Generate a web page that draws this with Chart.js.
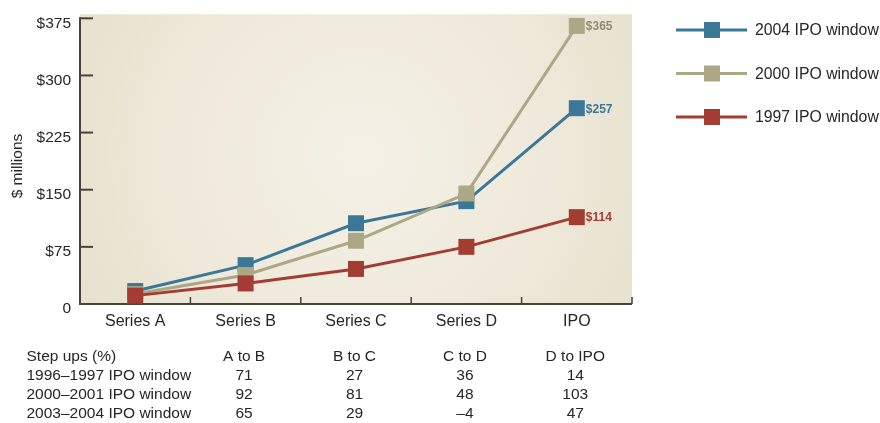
<!DOCTYPE html>
<html>
<head>
<meta charset="utf-8">
<script src="https://cdn.jsdelivr.net/npm/chart.js@4/dist/chart.umd.min.js"></script>
<style>
  html, body { margin: 0; padding: 0; background: #ffffff; }
  #wrap { width: 880px; height: 423px; }
</style>
</head>
<body>
<div id="wrap"><canvas id="c" width="880" height="423"></canvas></div>
<script>
// Funding round medians, $ millions
const categories = ['Series A', 'Series B', 'Series C', 'Series D', 'IPO'];
const seriesNames = ['2004 IPO window', '2000 IPO window', '1997 IPO window'];
const values2004 = [17, 51, 106, 135, 257];
const values2000 = [13, 38, 83, 145, 365];
const values1997 = [11, 27, 46, 75, 114];
const seriesColors = ['#3b7797', '#aca886', '#a33d33'];
const labelColors = ['#3b7797', '#8f8b70', '#a33d33'];

// Value axis
const yMax = 375;
const yStep = 75;

// Step-up table under the chart
const stepTitle = 'Step ups (%)';
const stepHeaders = ['A to B', 'B to C', 'C to D', 'D to IPO'];
const stepRowLabels = ['1996–1997 IPO window', '2000–2001 IPO window', '2003–2004 IPO window'];
const stepUps1997 = [71, 27, 36, 14];
const stepUps2001 = [92, 81, 48, 103];
const stepUps2004 = [65, 29, -4, 47];

const FONT = "'Liberation Sans', Arial, Helvetica, sans-serif";
const TEXT = '#262626';
const AXIS = '#48423c';

function fmtStep(v) { return v < 0 ? '–' + Math.abs(v) : String(v); }

const decor = {
  id: 'decor',
  beforeDraw(chart) {
    const { ctx, chartArea: a } = chart;
    const cx = a.left + (a.right - a.left) * 0.51;
    const cy = a.top + (a.bottom - a.top) * 0.48;
    const g = ctx.createRadialGradient(cx, cy, 0, cx, cy, 330);
    g.addColorStop(0, '#f4f1e7');
    g.addColorStop(0.55, '#eee9da');
    g.addColorStop(1, '#e6e0cc');
    ctx.save();
    ctx.fillStyle = g;
    ctx.fillRect(a.left, a.top - 4, a.right - a.left, a.bottom - a.top + 4);
    ctx.restore();
  },
  beforeDatasetsDraw(chart) {
    const { ctx, chartArea: a, scales } = chart;
    const x = scales.x, y = scales.y;
    ctx.save();
    ctx.strokeStyle = AXIS;
    ctx.lineWidth = 2;
    // axis lines
    ctx.beginPath();
    ctx.moveTo(a.left, a.top - 1);
    ctx.lineTo(a.left, a.bottom);
    ctx.lineTo(a.right, a.bottom);
    ctx.stroke();
    // inward ticks on value axis
    y.ticks.forEach(t => {
      const py = y.getPixelForValue(t.value);
      ctx.beginPath();
      ctx.moveTo(a.left, py);
      ctx.lineTo(a.left + 13, py);
      ctx.stroke();
    });
    // inward ticks between categories
    ctx.lineWidth = 1.5;
    for (let i = 1; i <= categories.length; i++) {
      const px = x.getPixelForValue(i - 0.5);
      ctx.beginPath();
      ctx.moveTo(px, a.bottom);
      ctx.lineTo(px, a.bottom - 7);
      ctx.stroke();
    }
    ctx.restore();
  },
  afterDatasetsDraw(chart) {
    const { ctx, chartArea: a, scales } = chart;
    const x = scales.x;
    ctx.save();

    // end-value labels
    ctx.font = 'bold 12px ' + FONT;
    ctx.textAlign = 'left';
    ctx.textBaseline = 'middle';
    chart.data.datasets.forEach((ds, i) => {
      const meta = chart.getDatasetMeta(i);
      const last = ds.data.length - 1;
      const pt = meta.data[last];
      ctx.fillStyle = labelColors[i];
      ctx.fillText('$' + ds.data[last], pt.x + 9, pt.y + 1);
    });

    // axis title
    ctx.save();
    ctx.translate(18, 166);
    ctx.rotate(-Math.PI / 2);
    ctx.font = '15.5px ' + FONT;
    ctx.fillStyle = TEXT;
    ctx.textAlign = 'center';
    ctx.textBaseline = 'middle';
    ctx.fillText('$ millions', 0, 0);
    ctx.restore();

    // legend
    const legRows = [30, 73.5, 117];
    chart.data.datasets.forEach((ds, i) => {
      const ly = legRows[i];
      ctx.strokeStyle = seriesColors[i];
      ctx.lineWidth = 3;
      ctx.beginPath();
      ctx.moveTo(676, ly);
      ctx.lineTo(747, ly);
      ctx.stroke();
      ctx.fillStyle = seriesColors[i];
      ctx.fillRect(704, ly - 8, 16, 16);
      ctx.fillStyle = TEXT;
      ctx.font = '15.8px ' + FONT;
      ctx.textAlign = 'left';
      ctx.textBaseline = 'middle';
      ctx.fillText(ds.label, 755, ly + 1);
    });

    // step-up table
    ctx.font = '15.5px ' + FONT;
    ctx.fillStyle = TEXT;
    ctx.textBaseline = 'middle';
    const rows = [356.5, 375.5, 394.5, 413.5];
    ctx.textAlign = 'left';
    ctx.fillText(stepTitle, 26.5, rows[0]);
    stepRowLabels.forEach((s, r) => ctx.fillText(s, 26.5, rows[r + 1]));
    const tableVals = [stepUps1997, stepUps2001, stepUps2004];
    ctx.textAlign = 'center';
    stepHeaders.forEach((h, c) => {
      const px = x.getPixelForValue(c + 1) - 1.5;
      ctx.fillText(h, px, rows[0]);
      tableVals.forEach((arr, r) => ctx.fillText(fmtStep(arr[c]), px, rows[r + 1]));
    });
    ctx.restore();
  }
};

function seriesDataset(label, data, idx, order) {
  return {
    label,
    data,
    order,
    borderColor: seriesColors[idx],
    backgroundColor: seriesColors[idx],
    borderWidth: 3,
    pointStyle: 'rect',
    pointRadius: 11.3,
    pointHoverRadius: 11.3,
    pointBorderWidth: 0,
    pointBackgroundColor: seriesColors[idx],
    tension: 0,
    clip: false
  };
}

new Chart(document.getElementById('c'), {
  type: 'line',
  data: {
    labels: categories,
    datasets: [
      seriesDataset(seriesNames[0], values2004, 0, 2),
      seriesDataset(seriesNames[1], values2000, 1, 1),
      seriesDataset(seriesNames[2], values1997, 2, 0)
    ]
  },
  options: {
    responsive: false,
    devicePixelRatio: 1,
    animation: false,
    events: [],
    layout: { padding: { top: 16, right: 248, bottom: 89, left: 0 } },
    plugins: { legend: { display: false }, tooltip: { enabled: false } },
    scales: {
      x: {
        offset: true,
        grid: { display: false, drawTicks: false },
        border: { display: false },
        ticks: { color: TEXT, font: { family: FONT, size: 16 }, padding: 8, maxRotation: 0 },
        afterFit(s) { s.height = 30; }
      },
      y: {
        min: 0,
        max: yMax,
        grid: { display: false, drawTicks: false },
        border: { display: false },
        ticks: {
          stepSize: yStep,
          color: TEXT,
          font: { family: FONT, size: 15.5 },
          padding: 9,
          labelOffset: 5,
          callback: v => (v === 0 ? '0' : '$' + v)
        },
        afterFit(s) { s.width = 80; }
      }
    }
  },
  plugins: [decor]
});
</script>
</body>
</html>
